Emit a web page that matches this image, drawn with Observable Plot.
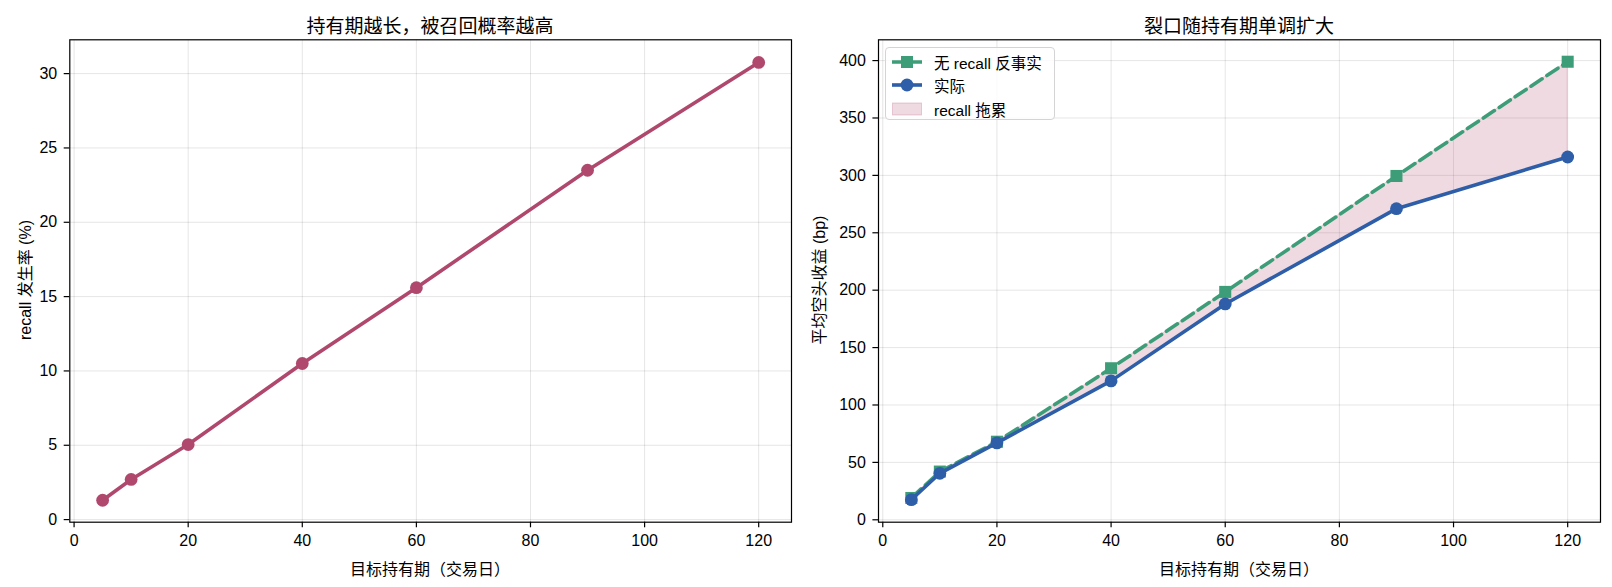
<!DOCTYPE html>
<html>
<head>
<meta charset="utf-8">
<script src="https://cdn.jsdelivr.net/npm/d3@7"></script>
<script src="https://cdn.jsdelivr.net/npm/@observablehq/plot@0.6"></script>
<style>
  body { margin: 0; background: white; width: 1612px; height: 587px; overflow: hidden; position: relative;
         font-family: "Liberation Sans", "Noto Sans CJK SC", sans-serif; color: #000; }
  .abs { position: absolute; white-space: nowrap; }
  .title { font-size: 19px; top: 11px; transform: translateX(-50%); }
  .xlabel { font-size: 16px; top: 556px; transform: translateX(-50%); }
  .ylabel { font-size: 16px; top: 280px; transform: translate(-50%, -50%) rotate(-90deg); }
  #legend { position: absolute; left: 885px; top: 47px; width: 170px; height: 73px; box-sizing: border-box;
            border: 1px solid #d4d4d4; border-radius: 4px; background: rgba(255,255,255,0.8); font-size: 15.5px; }
  #legend .row { position: absolute; left: 6px; height: 20px; display: flex; align-items: center; }
  #legend .row span { margin-left: 12px; }
</style>
</head>
<body>
<div id="left" class="abs" style="left:0;top:0"></div>
<div id="right" class="abs" style="left:800px;top:0"></div>
<div class="abs title" style="left:430px">持有期越长，被召回概率越高</div>
<div class="abs title" style="left:1239px">裂口随持有期单调扩大</div>
<div class="abs xlabel" style="left:430px">目标持有期（交易日）</div>
<div class="abs xlabel" style="left:1239px">目标持有期（交易日）</div>
<div class="abs ylabel" style="left:24px">recall 发生率 (%)</div>
<div class="abs ylabel" style="left:818px">平均空头收益 (bp)</div>
<div id="legend"></div>
<script>
// ---- data ----
const days = [5, 10, 20, 40, 60, 90, 120];
const recallRate = [1.3, 2.7, 5.05, 10.5, 15.6, 23.5, 30.75];
const counterfactual = [19, 42, 68, 132, 198.5, 299.5, 399];
const actual = [17.5, 40.5, 67, 121, 188, 271, 316];
const xTicks = [0, 20, 40, 60, 80, 100, 120];
const leftYTicks = [0, 5, 10, 15, 20, 25, 30];
const rightYTicks = [0, 50, 100, 150, 200, 250, 300, 350, 400];
const legendLabels = ["无 recall 反事实", "实际", "recall 拖累"];

const colRecall = "#b0486e";
const colGreen = "#3d9d78";
const colBlue = "#2e5ea8";

const rowsLeft = days.map((d, i) => ({d, v: recallRate[i]}));
const rowsRight = days.map((d, i) => ({d, cf: counterfactual[i], act: actual[i]}));

const style = {fontSize: "16px", fontFamily: '"Liberation Sans","Noto Sans CJK SC",sans-serif', background: "white", color: "black", overflow: "visible"};
const axisCommon = {tickSize: 5.6, tickPadding: 7, strokeWidth: 1.2, label: null};
const gridStyle = {stroke: "#000", strokeOpacity: 0.1, strokeWidth: 1};

const left = Plot.plot({
  width: 800, height: 587,
  marginLeft: 69.3, marginRight: 9, marginTop: 39.3, marginBottom: 65.3,
  style,
  x: {domain: [-0.75, 125.75]},
  y: {domain: [-0.175, 32.275]},
  marks: [
    Plot.gridX(xTicks, gridStyle),
    Plot.gridY(leftYTicks, gridStyle),
    Plot.axisX(xTicks, axisCommon),
    Plot.axisY(leftYTicks, axisCommon),
    Plot.line(rowsLeft, {x: "d", y: "v", stroke: colRecall, strokeWidth: 3.6}),
    Plot.dot(rowsLeft, {x: "d", y: "v", r: 6.4, fill: colRecall, stroke: "none"}),
    Plot.frame({stroke: "black", strokeWidth: 1.2})
  ]
});
document.getElementById("left").appendChild(left);

const right = Plot.plot({
  width: 812, height: 587,
  marginLeft: 78, marginRight: 12, marginTop: 39.3, marginBottom: 65.3,
  style,
  x: {domain: [-0.75, 125.75]},
  y: {domain: [-2.1, 418.1]},
  marks: [
    Plot.gridX(xTicks, gridStyle),
    Plot.gridY(rightYTicks, gridStyle),
    Plot.axisX(xTicks, axisCommon),
    Plot.axisY(rightYTicks, axisCommon),
    Plot.areaY(rowsRight, {x: "d", y1: "act", y2: "cf", fill: colRecall, fillOpacity: 0.2, stroke: colRecall, strokeOpacity: 0.2, strokeWidth: 1}),
    Plot.line(rowsRight, {x: "d", y: "cf", stroke: colGreen, strokeWidth: 3.6, strokeDasharray: "13.3,5.8"}),
    Plot.dot(rowsRight, {x: "d", y: "cf", symbol: "square", r: 6.8, fill: colGreen, stroke: "none"}),
    Plot.line(rowsRight, {x: "d", y: "act", stroke: colBlue, strokeWidth: 3.6}),
    Plot.dot(rowsRight, {x: "d", y: "act", r: 6.4, fill: colBlue, stroke: "none"}),
    Plot.frame({stroke: "black", strokeWidth: 1.2})
  ]
});
document.getElementById("right").appendChild(right);

// ---- legend ----
const lg = document.getElementById("legend");
const swatches = [
  `<svg width="30" height="20"><line x1="0" y1="10" x2="30" y2="10" stroke="${colGreen}" stroke-width="3.6" stroke-dasharray="13.3,5.8"/><rect x="9" y="4" width="12" height="12" fill="${colGreen}"/></svg>`,
  `<svg width="30" height="20"><line x1="0" y1="10" x2="30" y2="10" stroke="${colBlue}" stroke-width="3.6"/><circle cx="15" cy="10" r="6.4" fill="${colBlue}"/></svg>`,
  `<svg width="30" height="20"><rect x="0.5" y="4" width="29" height="12" fill="${colRecall}" fill-opacity="0.2" stroke="${colRecall}" stroke-opacity="0.25"/></svg>`
];
const rowTops = [4, 27, 50.5];
legendLabels.forEach((t, i) => {
  const r = document.createElement("div");
  r.className = "row";
  r.style.top = rowTops[i] + "px";
  r.innerHTML = swatches[i] + `<span>${t}</span>`;
  lg.appendChild(r);
});
</script>
</body>
</html>
